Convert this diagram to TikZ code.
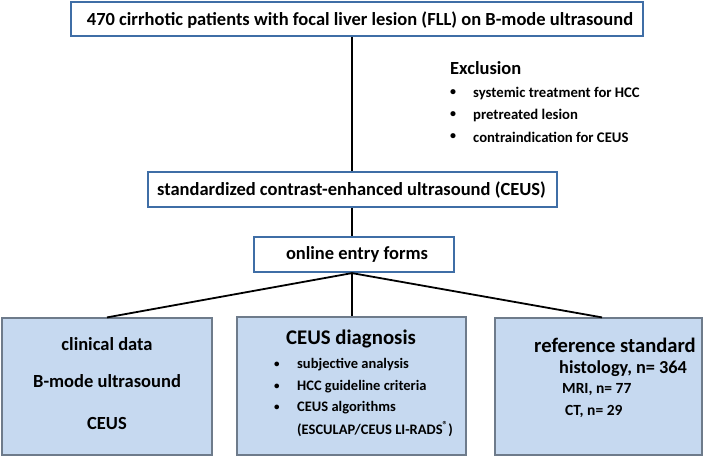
\documentclass[tikz,border=0pt]{standalone}
\usepackage{fontspec}
\setmainfont{Carlito}
\usetikzlibrary{calc}
\definecolor{topblue}{HTML}{3F6EA6}
\definecolor{fillblue}{HTML}{C6D9F0}
\definecolor{greyborder}{HTML}{6E7B8B}
\begin{document}
\begin{tikzpicture}[x=1pt,y=-1pt,
  topbox/.style={draw=topblue,line width=2.2pt,fill=white,inner sep=0pt,anchor=center},
  bluebox/.style={draw=greyborder,line width=1.2pt,fill=fillblue,inner sep=0pt,anchor=center},
  conn/.style={line width=1.8pt,black},
  txt/.style={inner sep=0pt,anchor=center,font=\bfseries},
  ltxt/.style={inner sep=0pt,anchor=west,font=\bfseries}]
\useasboundingbox (0,0) rectangle (708,456);
% boxes
\node[topbox,minimum width=572pt,minimum height=34pt] (top) at (357,19) {};
\node[topbox,minimum width=409pt,minimum height=35pt] (ceus) at (352.5,189.5) {};
\node[topbox,minimum width=200pt,minimum height=35pt] (online) at (354,254.5) {};
\node[bluebox,minimum width=210pt,minimum height=137pt] (left) at (107,386.5) {};
\node[bluebox,minimum width=229pt,minimum height=138pt] (mid) at (351.5,386) {};
\node[bluebox,minimum width=207pt,minimum height=137pt] (right) at (598.5,386.5) {};
% connectors
\draw[conn] (top.south -| 352,0) -- (ceus.north -| 352,0);
\draw[conn] (ceus.south -| 352,0) -- (online.north -| 352,0);
\coordinate (fan) at (online.south -| 352,0);
\draw[conn] (fan) -- (left.north);
\draw[conn] (fan) -- (mid.north -| fan);
\draw[conn] (fan) -- ($(right.north)+(3.5,0)$);
% texts in top boxes
\node[txt,font=\bfseries\fontsize{18.5}{22}\selectfont] (t1) at (360,20) {470 cirrhotic patients with focal liver lesion (FLL) on B-mode ultrasound};
\node[txt,font=\bfseries\fontsize{18.5}{22}\selectfont] (t2) at (351.5,190) {standardized contrast-enhanced ultrasound (CEUS)};
\node[txt,font=\bfseries\fontsize{18.5}{22}\selectfont] (t3) at (357,254) {online entry forms};
% exclusion
\node[ltxt,font=\bfseries\fontsize{18.5}{22}\selectfont] (ex) at (450,68) {Exclusion};
\foreach \yy/\tt [count=\i] in {93/systemic treatment for HCC,115/pretreated lesion,137/contraindication for CEUS}{
  \node[ltxt,font=\bfseries\fontsize{12}{14}\selectfont] (exb\i) at (450,\yy) {•};
  \node[ltxt,font=\bfseries\fontsize{14.7}{17}\selectfont] (ext\i) at (473,\yy) {\tt};
}
% left box
\node[txt,font=\bfseries\fontsize{18.5}{22}\selectfont] (l1) at (107,344) {clinical data};
\node[txt,font=\bfseries\fontsize{18.5}{22}\selectfont] (l2) at (107,381) {B-mode ultrasound};
\node[txt,font=\bfseries\fontsize{18.5}{22}\selectfont] (l3) at (107,423) {CEUS};
% middle box
\node[txt,font=\bfseries\fontsize{20.8}{25}\selectfont] (m0) at (351,339) {CEUS diagnosis};
\foreach \yy/\tt [count=\i] in {365/subjective analysis,387/HCC guideline criteria,408/CEUS algorithms}{
  \node[ltxt,font=\bfseries\fontsize{11}{13}\selectfont] (mb\i) at (274,\yy) {•};
  \node[ltxt,font=\bfseries\fontsize{14.5}{17}\selectfont] (mt\i) at (297,\yy) {\tt};
}
\node[ltxt,font=\bfseries\fontsize{14.5}{17}\selectfont] (m4) at (297,429) {(ESCULAP/CEUS LI-RADS\textsuperscript{®})};
% right box
\node[ltxt,font=\bfseries\fontsize{20.6}{25}\selectfont] (r0) at (534,345) {reference standard};
\node[ltxt,font=\bfseries\fontsize{18.3}{22}\selectfont] (r1) at (559,369) {histology, n= 364};
\node[ltxt,font=\bfseries\fontsize{15.5}{18}\selectfont] (r2) at (562,390) {MRI, n= 77};
\node[ltxt,font=\bfseries\fontsize{15.5}{18}\selectfont] (r3) at (565,411) {CT, n= 29};
\end{tikzpicture}
\end{document}
